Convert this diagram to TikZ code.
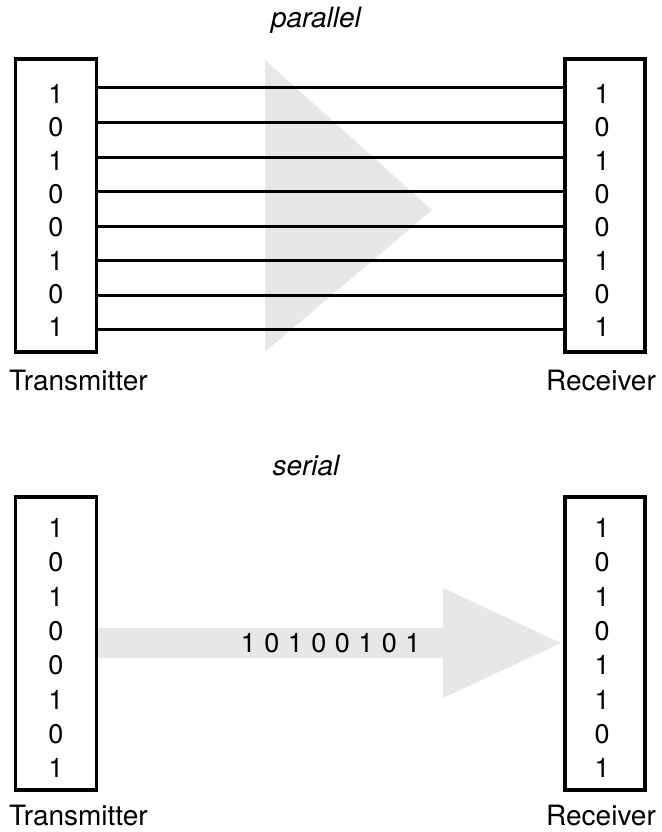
\documentclass[tikz,border=0pt]{standalone}
\usepackage{fontspec}
\setmainfont{TeX Gyre Heros}
\definecolor{flowgray}{HTML}{E6E7E8}
\begin{document}
\begin{tikzpicture}[x=1pt,y=-1pt,
  box/.style={draw=black,line width=3.4pt,fill=none},
  bit/.style={font=\fontsize{27}{27}\selectfont,inner sep=0pt,anchor=center},
  sbit/.style={font=\fontsize{27}{27}\selectfont,inner sep=0pt,anchor=center},
  lbl/.style={font=\fontsize{28}{28}\selectfont,inner sep=0pt},
  ttl/.style={font=\fontsize{28}{28}\selectfont\itshape,inner sep=0pt},
  wire/.style={line width=3pt}]
\useasboundingbox (0,0) rectangle (661,832);
% ---------- parallel ----------
\fill[flowgray] (265,60) -- (432,210) -- (265,352) -- cycle;
\node[box,minimum width=81pt,minimum height=293pt,inner sep=0pt] (tx1) at (56,205.5) {};
\node[box,minimum width=80pt,minimum height=293pt,inner sep=0pt] (rx1) at (605,205.5) {};
\foreach \b [count=\i from 0] in {1,0,1,0,0,1,0,1} {
  \node[bit] (pt\i) at (56,{94+33.3*\i}) {\b};
  \node[bit] (pr\i) at (602,{94+33.3*\i}) {\b};
  \coordinate (w\i) at (0,{88+34.5*\i});
  \draw[wire] (tx1.east |- w\i) -- (rx1.west |- w\i);
}
\node[ttl] (ptitle) at (316,20) {parallel};
\node[lbl,anchor=west] (ptxl) at (9,381) {Transmitter};
\node[lbl,anchor=east] (prxl) at (656,381) {Receiver};
% ---------- serial ----------
\node[box,minimum width=81pt,minimum height=293pt,inner sep=0pt] (tx2) at (56,643.5) {};
\node[box,minimum width=80pt,minimum height=293pt,inner sep=0pt] (rx2) at (605,643.5) {};
\fill[flowgray] (tx2.east |- 0,628) -- (443,628) -- (443,588) -- (561,643) -- (443,698) -- (443,658) -- (tx2.east |- 0,658) -- cycle;
\foreach \b [count=\i from 0] in {1,0,1,0,0,1,0,1} {
  \node[bit] (st\i) at (56,{528+34.3*\i}) {\b};
}
\foreach \b [count=\i from 0] in {1,0,1,0,1,1,0,1} {
  \node[bit] (sr\i) at (602,{528+34.3*\i}) {\b};
}
\foreach \b [count=\i from 0] in {1,0,1,0,0,1,0,1} {
  \node[sbit] (sb\i) at ({248.5+23.5*\i},643) {\b};
}
\node[ttl] (stitle) at (306,465) {serial};
\node[lbl,anchor=west] (stxl) at (9,815) {Transmitter};
\node[lbl,anchor=east] (srxl) at (656,815) {Receiver};
\end{tikzpicture}
\end{document}
